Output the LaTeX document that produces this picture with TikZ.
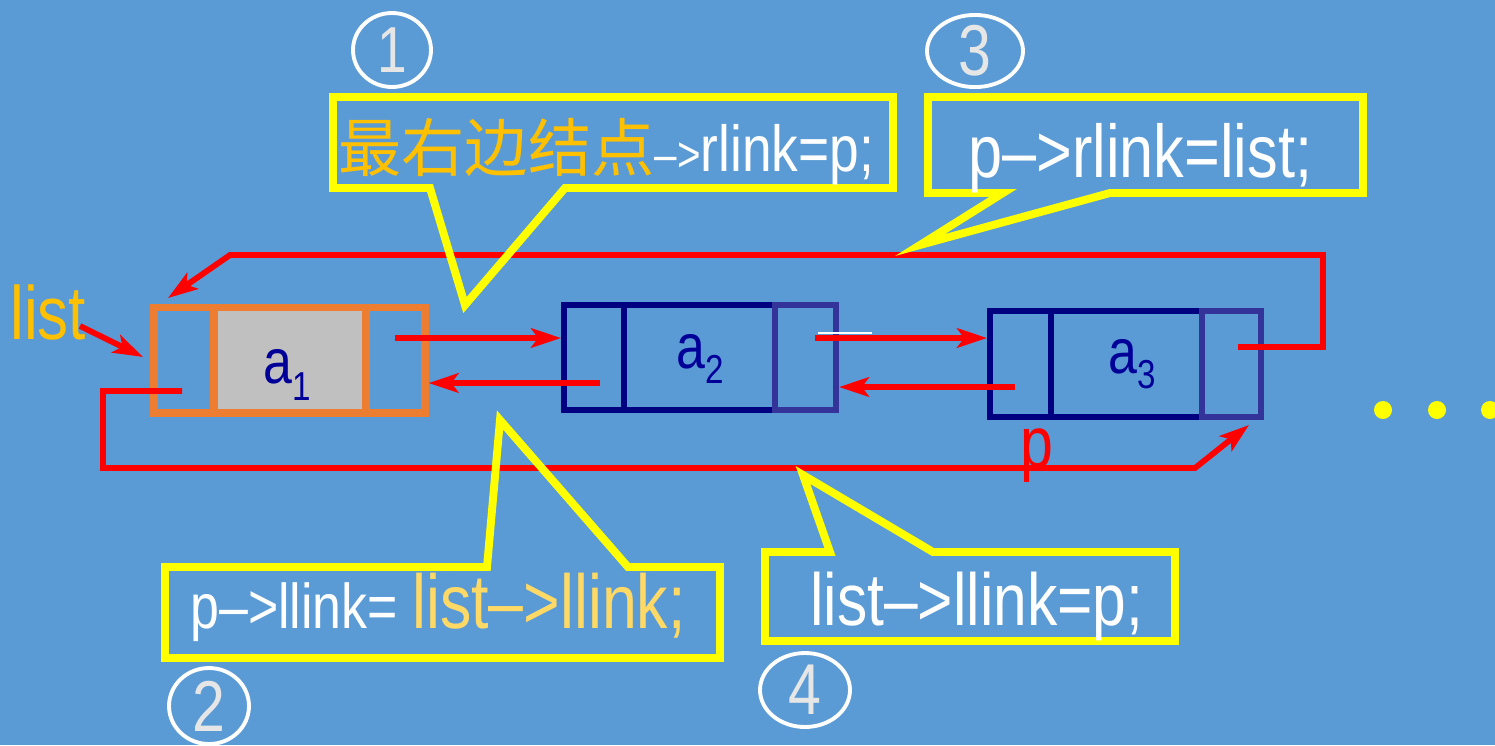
\documentclass[tikz,border=0pt]{standalone}
\usepackage{fontspec}
\usetikzlibrary{arrows.meta,shapes.geometric,calc}
\newfontfamily\nar{Liberation Sans}[FakeStretch=0.82]
\newfontfamily\cjk{Noto Sans CJK SC}
\newcommand\myfs[1]{\fontsize{#1}{#1}\selectfont}
\definecolor{bg}{HTML}{5B9BD5}
\definecolor{orng}{HTML}{ED7D31}
\definecolor{navy}{HTML}{000080}
\definecolor{pblue}{HTML}{333399}
\definecolor{gry}{HTML}{C0C0C0}
\definecolor{rd}{HTML}{FF0000}
\definecolor{yel}{HTML}{FFFF00}
\definecolor{gold}{HTML}{FFC000}
\definecolor{lgold}{HTML}{FFD966}
\definecolor{dgray}{HTML}{E6E6E6}
\definecolor{lblue}{HTML}{000099}
\begin{document}
\begin{tikzpicture}[x=0.02cm,y=-0.02cm,
  cellA/.style={draw=orng, line width=4pt, inner sep=0pt, minimum height=2.12cm},
  cellB/.style={draw=navy, line width=3.4pt, inner sep=0pt},
  cellC/.style={draw=pblue, line width=3.4pt, inner sep=0pt},
  lbl/.style={inner sep=0pt, text=lblue, font=\nar\myfs{36pt}},
  redarr/.style={draw=rd, line width=3.3pt, line join=miter, -{Stealth[length=17pt, width=11pt, inset=4pt]}},
  callout/.style={draw=yel, line width=4.5pt, line join=miter, miter limit=20},
  txt/.style={inner sep=0pt, text=white, font=\nar\myfs{36pt}},
  numc/.style={ellipse, draw=white, line width=2.2pt, inner sep=0pt, text=dgray, font=\nar\myfs{41pt}},
  dot/.style={circle, fill=yel, inner sep=0pt, minimum size=0.36cm}]
\fill[bg] (0,0) rectangle (1495,745);
\useasboundingbox (0,0) rectangle (1495,745);

% node a1
\node[cellA, minimum width=1.2cm] (n1l) at (184,360) {};
\node[cellA, fill=gry, minimum width=3.04cm] (n1m) at (290,360) {};
\node[cellA, minimum width=1.18cm] (n1r) at (395.5,360) {};
\node[lbl, anchor=base west] (t1) at (263,383) {a\raisebox{-0.34cm}{\myfs{23pt}1}};

% node a2
\node[cellB, minimum width=1.2cm, minimum height=2.1cm] (n2l) at (594,357.5) {};
\node[cellB, minimum width=3.02cm, minimum height=2.1cm] (n2m) at (699.5,357.5) {};
\node[cellC, minimum width=1.22cm, minimum height=2.1cm] (n2r) at (805.5,357.5) {};
\node[lbl, anchor=base west] (t2) at (676,368) {a\raisebox{-0.3cm}{\myfs{23pt}2}};

% node a3
\node[cellB, minimum width=1.22cm, minimum height=2.12cm] (n3l) at (1020.5,364) {};
\node[cellB, minimum width=3.02cm, minimum height=2.12cm] (n3m) at (1126.5,364) {};
\node[cellC, minimum width=1.18cm, minimum height=2.12cm] (n3r) at (1231.5,364) {};
\node[lbl, anchor=base west] (t3) at (1108,373) {a\raisebox{-0.3cm}{\myfs{23pt}3}};

% connectors
\coordinate (s1) at (395,338);
\draw[redarr] (s1) -- (s1 -| n2l.west);
\coordinate (s2) at (600,383);
\draw[redarr] (s2) -- (s2 -| n1r.east);
\coordinate (s3) at (815,338);
\draw[redarr] (s3) -- (s3 -| n3l.west);
\draw[white, line width=0.8pt] (818,333) -- (872,333);
\coordinate (s4) at (1015,387);
\draw[redarr] (s4) -- (s4 -| n2r.east);
\coordinate (s5) at (1238,347);
\coordinate (e5) at (168,298);
\draw[redarr] (s5) -- (1323,347) -- (1323,255) -- (230,255) -- (e5);
\coordinate (s6) at (182,391);
\coordinate (e6) at (1249,425);
\draw[redarr] (s6) -- (103,391) -- (103,468) -- (1195,468) -- (e6);

% labels list and p
\node[txt, anchor=base west, text=gold, font=\nar\myfs{43pt}] (lst) at (10,339) {list};
\coordinate (s7) at (80,326);
\coordinate (e7) at (143,357);
\draw[redarr] (s7) -- (e7);
\node[txt, anchor=base west, text=rd, font=\nar\myfs{41pt}] (pl) at (1020,467) {p};

% callouts
\draw[callout] (333,97) -- (893,97) -- (893,188) -- (565,188) -- (465,305) -- (430,188) -- (333,188) -- cycle;
\node[txt, anchor=base west] (c1t) at (338,171) {{\cjk\color{gold}最右边结点}{\myfs{28pt}–>}{\myfs{37pt}rlink=p;}};

\draw[callout] (165,567) -- (487,567) -- (500,420) -- (628,567) -- (720,567) -- (720,658) -- (165,658) -- cycle;
\node[txt, anchor=base west] (c2t) at (190,628) {p–>llink= {\myfs{43.5pt}\color{lgold}list–>llink;}};

\draw[callout] (928,97) -- (1363,97) -- (1363,193) -- (1110,193) -- (920,245) -- (1003,193) -- (928,193) -- cycle;
\node[txt, anchor=base west, font=\nar\myfs{42.5pt}] (c3t) at (968,177) {p–>rlink=list;};

\draw[callout] (765,552) -- (830,552) -- (803,475) -- (933,552) -- (1175,552) -- (1175,641) -- (765,641) -- cycle;
\node[txt, anchor=base west, font=\nar\myfs{42pt}] (c4t) at (810,625) {list–>llink=p;};

% circled numbers
\node[numc, font=\nar\myfs{37pt}, minimum width=1.56cm, minimum height=1.48cm] (k1) at (392,50) {1};
\node[numc, minimum width=1.6cm, minimum height=1.52cm] (k2) at (209,706) {2};
\node[numc, minimum width=1.92cm, minimum height=1.24cm] (k3) at (975,51) {3};
\node[numc, minimum width=1.8cm, minimum height=1.48cm] (k4) at (805,690) {4};

% dots
\node[dot] (d1) at (1383,410) {};
\node[dot] (d2) at (1437,410) {};
\node[dot] (d3) at (1490,410) {};
\end{tikzpicture}
\end{document}
